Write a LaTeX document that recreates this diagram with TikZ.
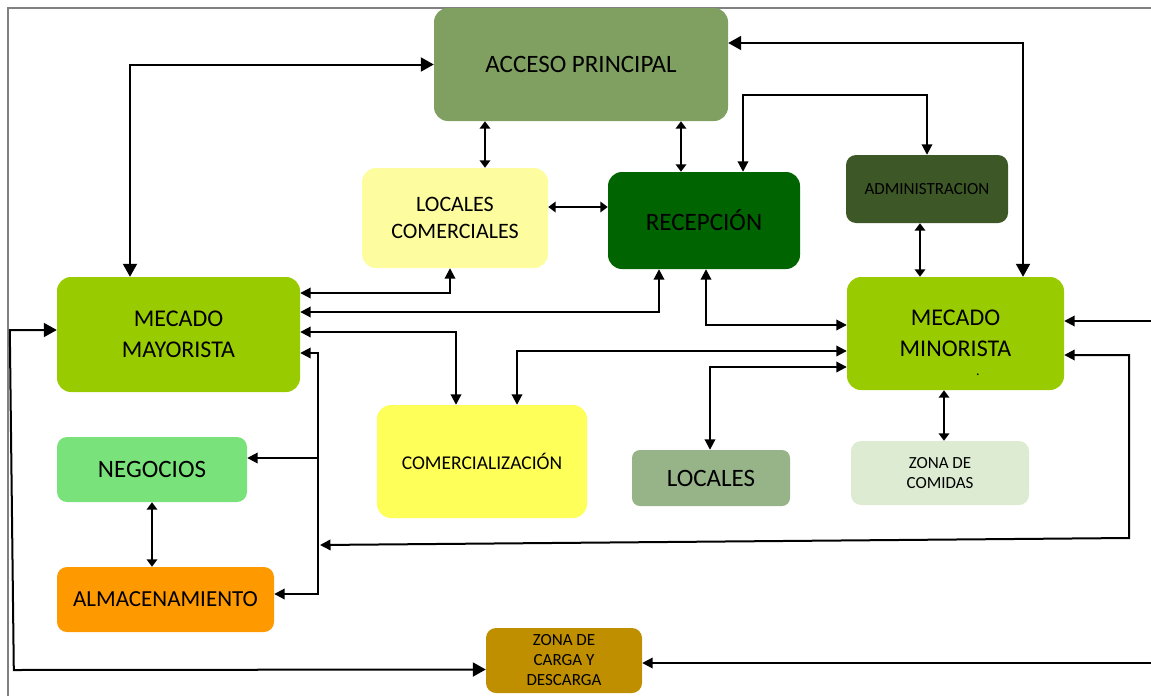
\documentclass[tikz,border=0pt]{standalone}
\usepackage{fontspec}
\setmainfont{Carlito}
\usetikzlibrary{arrows.meta}

\definecolor{framegray}{RGB}{128,128,128}
\definecolor{accesocol}{RGB}{127,160,96}
\definecolor{loccomcol}{RGB}{253,253,160}
\definecolor{recepcol}{RGB}{0,100,0}
\definecolor{admincol}{RGB}{61,87,38}
\definecolor{mercol}{RGB}{153,204,0}
\definecolor{comerccol}{RGB}{255,255,90}
\definecolor{negoccol}{RGB}{122,226,122}
\definecolor{almaccol}{RGB}{255,153,0}
\definecolor{localescol}{RGB}{150,180,135}
\definecolor{comidascol}{RGB}{221,235,211}
\definecolor{cargacol}{RGB}{191,143,0}

\tikzset{
    box/.style={fill=#1, draw=none, rounded corners=14pt, align=center, inner sep=0pt, text=black},
    bigtip/.tip={Triangle[length=13pt,width=14pt]},
    midtip/.tip={Triangle[length=10.5pt,width=10.5pt]},
    smtip/.tip={Triangle[length=7.5pt,width=10.5pt]},
    dblbig/.style={bigtip-bigtip, line width=2pt},
    dbl/.style={midtip-midtip, line width=2pt},
    dblsm/.style={smtip-smtip, line width=2pt},
    sgl/.style={-midtip, line width=2pt}
}

\begin{document}
\begin{tikzpicture}[x=1pt,y=-1pt]
        \useasboundingbox (0,0) rectangle (1151,696);
        \draw[line width=1.2pt, framegray] (8,696) -- (8,8) -- (1151,8);

        \node[box=accesocol, minimum width=294pt, minimum height=113pt, font=\fontsize{25}{30}\selectfont] (acceso) at (581,64.5) {ACCESO PRINCIPAL};
        \node[box=loccomcol, minimum width=186pt, minimum height=100pt, font=\fontsize{22}{27}\selectfont] (loccom) at (455,218) {LOCALES\\COMERCIALES};
        \node[box=recepcol, minimum width=192pt, minimum height=97pt, font=\fontsize{25}{30}\selectfont] (recep) at (704,220.5) {RECEPCIÓN};
        \node[box=admincol, rounded corners=10pt, minimum width=162pt, minimum height=68pt, font=\fontsize{17}{20}\selectfont] (admin) at (927,189) {ADMINISTRACION};
        \node[box=mercol, minimum width=243pt, minimum height=115pt, font=\fontsize{24}{31}\selectfont] (mayor) at (178.5,334.5) {MECADO\\MAYORISTA};
        \node[box=mercol, minimum width=217pt, minimum height=113pt, font=\fontsize{24}{31}\selectfont] (minor) at (955.5,333.5) {MECADO\\MINORISTA};
        \node[anchor=base, inner sep=0pt, font=\fontsize{14}{14}\selectfont] (minordot) at (978,375) {.};
        \node[box=comerccol, minimum width=210pt, minimum height=113pt, font=\fontsize{19.5}{24}\selectfont] (comerc) at (482,461.5) {COMERCIALIZACIÓN};
        \node[box=negoccol, rounded corners=10pt, minimum width=190pt, minimum height=65pt, font=\fontsize{25}{30}\selectfont] (negoc) at (152,469.5) {NEGOCIOS};
        \node[box=almaccol, rounded corners=10pt, minimum width=217pt, minimum height=65pt, font=\fontsize{23}{28}\selectfont] (almac) at (165.5,599.5) {ALMACENAMIENTO};
        \node[box=localescol, rounded corners=8pt, minimum width=158pt, minimum height=56pt, font=\fontsize{25}{30}\selectfont] (locales) at (711,478) {LOCALES};
        \node[box=comidascol, rounded corners=10pt, minimum width=178pt, minimum height=64pt, font=\fontsize{17}{20}\selectfont] (comidas) at (940,473) {ZONA DE\\COMIDAS};
        \node[box=cargacol, rounded corners=10pt, minimum width=156pt, minimum height=65pt, font=\fontsize{17}{20}\selectfont] (carga) at (564,660.5) {ZONA DE\\CARGA Y\\DESCARGA};

        \coordinate (busx) at (318,0);
        \coordinate (busin) at (320,545);
        \coordinate (inminor) at (1151,321);
        \coordinate (incarga) at (1151,663);

        \draw[dblbig] (acceso.west) -| ([xshift=-48.5pt]mayor.north);
        \draw[dblbig] ([yshift=21.5pt]acceso.east) -| ([xshift=67.5pt]minor.north);
        \draw[dblsm] ([xshift=30pt]loccom.north) -- ([xshift=30pt]loccom.north |- acceso.south);
        \draw[dblsm] ([xshift=-23pt]recep.north) -- ([xshift=-23pt]recep.north |- acceso.south);
        \draw[dbl] ([xshift=39pt]recep.north) -- ++(0,-77) -| (admin.north);
        \draw[dblsm] ([yshift=11pt]loccom.east) -- ([yshift=11pt]loccom.east -| recep.west);
        \draw[dblsm] ([xshift=-7pt]admin.south) -- ([xshift=-7pt]admin.south |- minor.north);

        \draw[dbl] ([yshift=41.5pt]mayor.east) -| ([xshift=-5pt]loccom.south);
        \draw[dbl] ([yshift=22.5pt]mayor.east) -| ([xshift=-45pt]recep.south);
        \draw[dbl] ([yshift=2.5pt]mayor.east) -| ([xshift=-26pt]comerc.north);
        \draw[dbl] ([xshift=2pt]recep.south) |- ([yshift=8.5pt]minor.west);
        \draw[dbl] ([xshift=35pt]comerc.north) |- ([yshift=-17.5pt]minor.west);
        \draw[dbl] ([xshift=-1pt]locales.north) |- ([yshift=-33.5pt]minor.west);
        \draw[dblsm] ([xshift=-11.5pt]minor.south) -- ([xshift=-11.5pt]minor.south |- comidas.north);

        \draw[sgl] (inminor) -- ([yshift=12.5pt]minor.east);
        \draw[dbl] ([yshift=-21.5pt]minor.east) -- ++(65,0) -- ++(0,183) -- (busin);

        \draw[dbl] ([yshift=-18.5pt]mayor.east) -- ([yshift=-18.5pt]mayor.east -| busx) |- ([yshift=5.5pt]almac.east);
        \draw[sgl] ([yshift=11.5pt]negoc.east -| busx) -- ([yshift=11.5pt]negoc.east);
        \draw[dblsm] (negoc.south) -- (negoc.south |- almac.north);

        \draw[dblbig] ([yshift=4.5pt]mayor.west) -- ++(-47,0) -- ++(4,340) -- ([yshift=-9pt]carga.west);
        \draw[sgl] (incarga) -- ([yshift=-2.5pt]carga.east);
\end{tikzpicture}
\end{document}
